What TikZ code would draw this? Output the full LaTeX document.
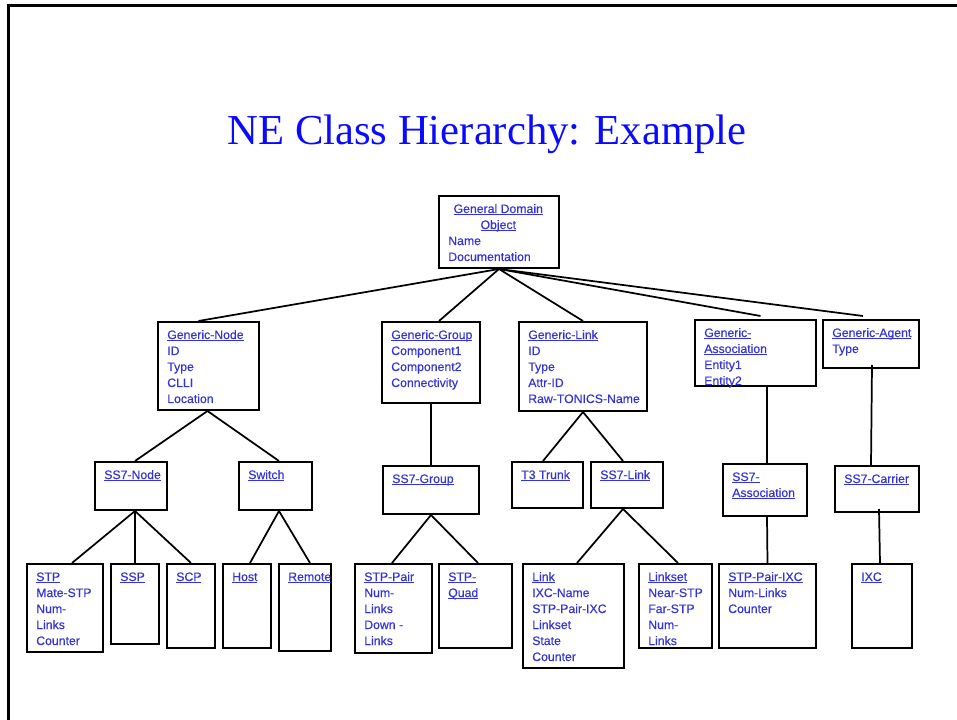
\documentclass[tikz,border=0pt]{standalone}
\usepackage{fontspec}
\setmainfont{Liberation Sans}
\newfontfamily\titlefont{Liberation Serif}
\newfontfamily\boxfont[FakeBold=0.4]{Liberation Sans}
\usetikzlibrary{fit,calc}

\definecolor{clsblue}{RGB}{52,52,214}
\definecolor{titleblue}{RGB}{10,10,255}

% underlined class name (rule just under the baseline)
\newcommand\clsname[1]{\setbox0=\hbox{#1}\rlap{\rule[-1.6pt]{\wd0}{0.6pt}}\box0}
% one text row inside a class box
\newcommand\rowtxt[1]{\hbox{#1}}
% centred row of a given width
\newcommand\midrow[1]{\hbox to 75pt{\hss#1\hss}}

\tikzset{
  box/.style={draw=black, line width=1.5pt, inner sep=0pt, fill=none},
  txt/.style={inner sep=0pt, text=clsblue, font=\boxfont\fontsize{9.2}{12}\selectfont},
  link/.style={draw=black, line width=1.3pt},
  frameline/.style={draw=black, line width=2.3pt}
}

% class box: name, x1, y1, x2, y2, rows
\newcommand\clsbox[6]{%
  \path (#2,#3) coordinate (#1-nw) (#4,#5) coordinate (#1-se);
  \node[box, fit=(#1-nw)(#1-se)] (#1) {};
  \node[txt, anchor=base west] (#1-text) at ($(#1.north west)+(10,18)$)
    {\vtop{\baselineskip=12pt #6}};
}

\begin{document}
\begin{tikzpicture}[x=0.75pt, y=-0.75pt]
\useasboundingbox (0,0) rectangle (957,720);

% slide frame (top and left edges)
\draw[frameline] (957,5.5) -- (8.5,5.5) -- (8.5,720);

% title
\node[anchor=base, inner sep=0pt, text=titleblue,
      font=\titlefont\fontsize{32}{36}\selectfont] (title) at (487,145)
  {NE Class Hierarchy: Example};

% root
\clsbox{root}{439}{196}{559}{268}{%
  \midrow{\clsname{General Domain}}\midrow{\clsname{Object}}%
  \rowtxt{Name}\rowtxt{Documentation}}

% second level
\clsbox{gnode}{158}{322}{259}{410}{%
  \rowtxt{\clsname{Generic-Node}}\rowtxt{ID}\rowtxt{Type}\rowtxt{CLLI}\rowtxt{Location}}
\clsbox{ggroup}{382}{322}{480}{403}{%
  \rowtxt{\clsname{Generic-Group}}\rowtxt{Component1}\rowtxt{Component2}\rowtxt{Connectivity}}
\clsbox{glink}{519}{322}{647}{411}{%
  \rowtxt{\clsname{Generic-Link}}\rowtxt{ID}\rowtxt{Type}\rowtxt{Attr-ID}\rowtxt{Raw-TONICS-Name}}
\clsbox{gassoc}{695}{320}{816}{386}{%
  \rowtxt{\clsname{Generic-}}\rowtxt{\clsname{Association}}\rowtxt{Entity1}\rowtxt{Entity2}}
\clsbox{gagent}{823}{320}{919}{368}{%
  \rowtxt{\clsname{Generic-Agent}}\rowtxt{Type}}

% third level
\clsbox{ss7node}{95}{462}{167}{510}{\rowtxt{\clsname{SS7-Node}}}
\clsbox{switch}{239}{462}{312}{510}{\rowtxt{\clsname{Switch}}}
\clsbox{ss7group}{383}{466}{479}{514}{\rowtxt{\clsname{SS7-Group}}}
\clsbox{t3trunk}{512}{462}{583}{508}{\rowtxt{\clsname{T3 Trunk}}}
\clsbox{ss7link}{591}{462}{663}{508}{\rowtxt{\clsname{SS7-Link}}}
\clsbox{ss7assoc}{723}{464}{807}{516}{%
  \rowtxt{\clsname{SS7-}}\rowtxt{\clsname{Association}}}
\clsbox{ss7carrier}{835}{466}{919}{512}{\rowtxt{\clsname{SS7-Carrier}}}

% fourth level
\clsbox{stp}{27}{564}{103}{652}{%
  \rowtxt{\clsname{STP}}\rowtxt{Mate-STP}\rowtxt{Num-}\rowtxt{Links}\rowtxt{Counter}}
\clsbox{ssp}{111}{564}{159}{644}{\rowtxt{\clsname{SSP}}}
\clsbox{scp}{167}{564}{215}{648}{\rowtxt{\clsname{SCP}}}
\clsbox{host}{223}{564}{271}{648}{\rowtxt{\clsname{Host}}}
\clsbox{remote}{279}{564}{331}{651}{\rowtxt{\clsname{Remote}}}
\clsbox{stppair}{355}{564}{432}{653}{%
  \rowtxt{\clsname{STP-Pair}}\rowtxt{Num-}\rowtxt{Links}\rowtxt{Down -}\rowtxt{Links}}
\clsbox{stpquad}{439}{564}{512}{648}{%
  \rowtxt{\clsname{STP-}}\rowtxt{\clsname{Quad}}}
\clsbox{linkcls}{523}{564}{624}{668}{%
  \rowtxt{\clsname{Link}}\rowtxt{IXC-Name}\rowtxt{STP-Pair-IXC}\rowtxt{Linkset}%
  \rowtxt{State}\rowtxt{Counter}}
\clsbox{linkset}{639}{564}{712}{648}{%
  \rowtxt{\clsname{Linkset}}\rowtxt{Near-STP}\rowtxt{Far-STP}\rowtxt{Num-}\rowtxt{Links}}
\clsbox{stppairixc}{719}{564}{816}{648}{%
  \rowtxt{\clsname{STP-Pair-IXC}}\rowtxt{Num-Links}\rowtxt{Counter}}
\clsbox{ixc}{852}{564}{912}{648}{\rowtxt{\clsname{IXC}}}

% root to second level
\draw[link] (root.south) -- ($(gnode.north)+(-10,0)$);
\draw[link] (root.south) -- ($(ggroup.north)+(8,0)$);
\draw[link] (root.south) -- (glink.north);
\draw[link] (root.south) -- ($(gassoc.north)+(5,-3)$);
\draw[link] (root.south) -- ($(gagent.north)+(-8,-3)$);

% second to third level
\draw[link] ($(gnode.south)+(-1,0)$) -- ($(ss7node.north)+(4,0)$);
\draw[link] ($(gnode.south)+(-1,0)$) -- ($(switch.north)+(3.5,0)$);
\draw[link] (ggroup.south) -- (ss7group.north);
\draw[link] (glink.south) -- ($(t3trunk.north)+(-4.5,0)$);
\draw[link] (glink.south) -- ($(ss7link.north)+(-4,0)$);
\draw[link] ($(gassoc.south)+(11.5,0)$) -- ($(ss7assoc.north)+(2,0)$);
\draw[link] ($(gagent.south)+(1,-4)$) -- ($(ss7carrier.north)+(-6,0)$);

% third to fourth level
\draw[link] ($(ss7node.south)+(4,0)$) -- ($(stp.north)+(7,0)$);
\draw[link] ($(ss7node.south)+(4,0)$) -- (ssp.north);
\draw[link] ($(ss7node.south)+(4,0)$) -- (scp.north);
\draw[link] ($(switch.south)+(3.5,0)$) -- ($(host.north)+(3,0)$);
\draw[link] ($(switch.south)+(3.5,0)$) -- ($(remote.north)+(5,0)$);
\draw[link] (ss7group.south) -- ($(stppair.north)+(-1.5,0)$);
\draw[link] (ss7group.south) -- ($(stpquad.north)+(2.5,0)$);
\draw[link] ($(ss7link.south)+(-4,0)$) -- ($(linkcls.north)+(3.5,0)$);
\draw[link] ($(ss7link.south)+(-4,0)$) -- ($(linkset.north)+(2.5,0)$);
\draw[link] ($(ss7assoc.south)+(2,0)$) -- (stppairixc.north);
\draw[link] ($(ss7carrier.south)+(2,-4)$) -- ($(ixc.north)+(-2,0)$);
\end{tikzpicture}
\end{document}
